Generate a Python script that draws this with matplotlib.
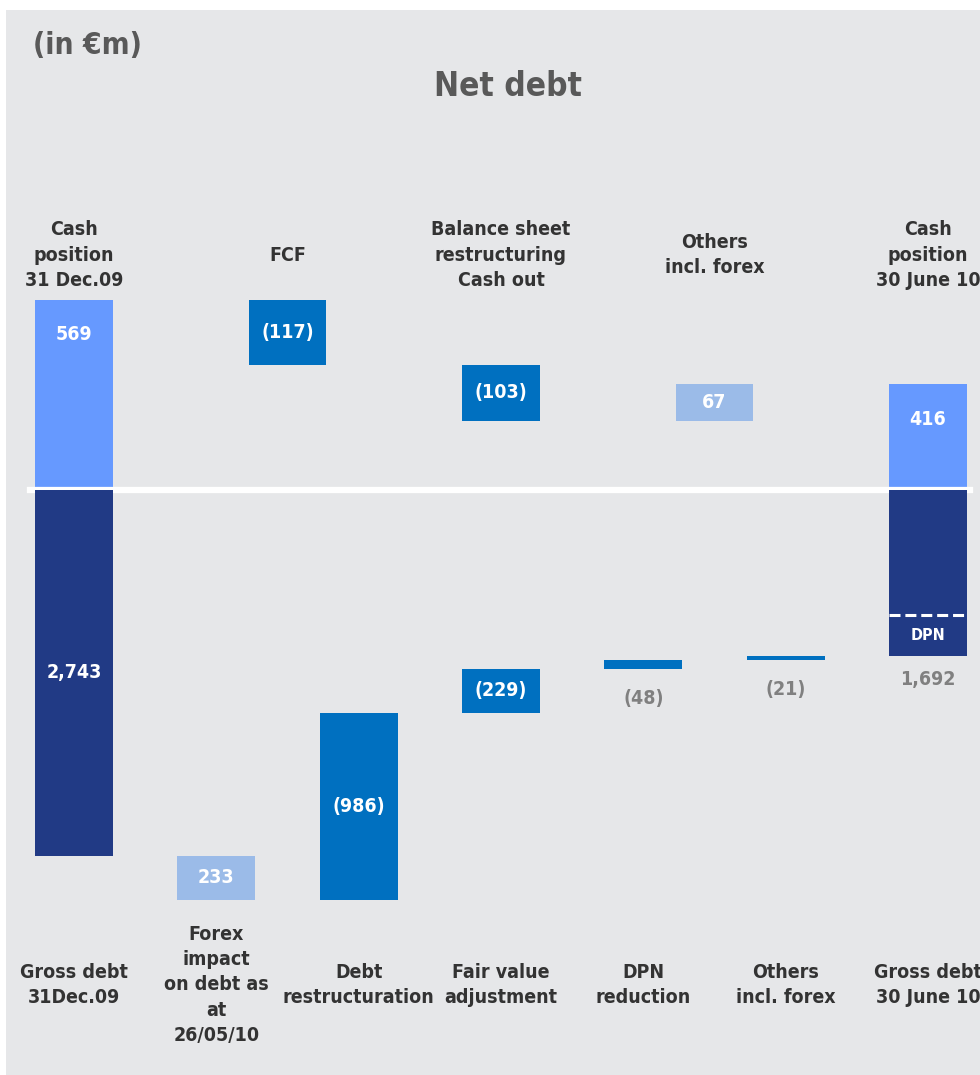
import matplotlib

matplotlib.use("Agg")

import matplotlib.pyplot as plt
import matplotlib.transforms as mtransforms
from matplotlib.patches import Rectangle

# cash side (above the line), in EUR m
CASH_LABELS = [
    "Cash\nposition\n31 Dec.09",
    "FCF",
    "Balance sheet\nrestructuring\nCash out",
    "Others\nincl. forex",
    "Cash\nposition\n30 June 10",
]
CASH_START = 569
CASH_FLOWS = [-117, -103, 67]
CASH_END = 416

# debt side (below the line), in EUR m
DEBT_LABELS = [
    "Gross debt\n31Dec.09",
    "Forex\nimpact\non debt as\nat\n26/05/10",
    "Debt\nrestructuration",
    "Fair value\nadjustment",
    "DPN\nreduction",
    "Others\nincl. forex",
    "Gross debt\n30 June 10",
]
DEBT_START = 2743
DEBT_FLOWS = [233, -986, -229, -48, -21]
DEBT_END = 1692
DPN_PART = 215  # DPN share of closing gross debt

BG = "#E6E7E9"
LIGHT = "#6699FF"
NAVY = "#213A85"
MID = "#0070C0"
PALE = "#9BBBE8"
TITLE_GREY = "#595959"
LABEL_GREY = "#333333"
VALUE_GREY = "#808080"

W, H = 980, 1075
plt.rcParams["font.family"] = ["DejaVu Sans"]
plt.rcParams["font.stretch"] = "condensed"


def fy(px: float) -> float:
    return 1 - px / H


def fmt(v: int) -> str:
    s = f"{abs(v):,}"
    return f"({s})" if v < 0 else s


fig = plt.figure(figsize=(W / 100, H / 100), dpi=100, facecolor="white")
fig.patches.append(Rectangle((6 / W, 0), 1 - 6 / W, fy(10), transform=fig.transFigure,
                             facecolor=BG, edgecolor="none", zorder=-10))

# upper half: cash, truncated axis
ax_c = fig.add_axes([0, fy(490), 1, 490 / H])
ax_c.set_xlim(-74 / 213.5, (W - 74) / 213.5)
ax_c.set_ylim(224, 1115)
ax_c.axis("off")

# lower half: debt grows downwards, truncated axis
ax_d = fig.add_axes([0, 0, 1, 585 / H])
ax_d.set_xlim(-74 / 142.33, (W - 74) / 142.33)
ax_d.set_ylim(3897, 818)
ax_d.axis("off")


def draw_waterfall(ax, start, flows, end, width, base_colour, down_colour, up_colour):
    xs = list(range(len(flows) + 2))
    ax.bar(xs[0], start, width=width, color=base_colour, zorder=2)
    level = start
    bars = [(xs[0], 0, start, start)]
    for x, v in zip(xs[1:-1], flows):
        lo, hi = min(level, level + v), max(level, level + v)
        ax.bar(x, hi - lo, bottom=lo, width=width,
               color=up_colour if v > 0 else down_colour, zorder=2)
        bars.append((x, lo, hi, v))
        level += v
    ax.bar(xs[-1], end, width=width, color=base_colour, zorder=2)
    bars.append((xs[-1], 0, end, end))
    return bars


cash_bars = draw_waterfall(ax_c, CASH_START, CASH_FLOWS, CASH_END, 0.365, LIGHT, MID, PALE)
debt_bars = draw_waterfall(ax_d, DEBT_START, DEBT_FLOWS, DEBT_END, 0.548, NAVY, MID, PALE)

val_kw = dict(ha="center", va="center", fontsize=14, fontweight="bold")

# cash values
for i, (x, lo, hi, v) in enumerate(cash_bars):
    if i in (0, len(cash_bars) - 1):
        ax_c.annotate(fmt(v), (x, hi), xytext=(0, -25), textcoords="offset points",
                      color="white", **val_kw)
    else:
        ax_c.text(x, (lo + hi) / 2, fmt(v), color="white", **val_kw)

# debt values
top_visible = ax_d.get_ylim()[1]
for i, (x, lo, hi, v) in enumerate(debt_bars):
    if i == 0:
        ax_d.text(x, (top_visible + hi) / 2, fmt(v), color="white", **val_kw)
    elif i == len(debt_bars) - 1:
        ax_d.annotate(fmt(v), (x, hi), xytext=(0, -17), textcoords="offset points",
                      color=VALUE_GREY, **val_kw)
    elif abs(v) < 60:
        ax_d.annotate(fmt(v), (x, hi), xytext=(0, -21), textcoords="offset points",
                      color=VALUE_GREY, **val_kw)
    else:
        ax_d.text(x, (lo + hi) / 2, fmt(v), color="white", **val_kw)

# DPN slice of the closing gross debt
x_end = debt_bars[-1][0]
dpn_level = DEBT_END - DPN_PART
ax_d.hlines(dpn_level, x_end - 0.274, x_end + 0.274, colors="white", linewidth=2.2,
            linestyles=(0, (3.6, 1.6)), zorder=3)
ax_d.text(x_end, (dpn_level + DEBT_END) / 2, "DPN", color="white", ha="center",
          va="center", fontsize=11.5, fontweight="bold", zorder=3)

# separator line between cash and debt
ax_c.axhline(ax_c.get_ylim()[0], xmin=30 / W, xmax=970 / W, color="white",
             linewidth=4.5, clip_on=False, zorder=4)

# category labels
cat_kw = dict(ha="center", va="center", fontsize=14, fontweight="bold",
              color=LABEL_GREY, linespacing=1.42)
tr_c = mtransforms.blended_transform_factory(ax_c.transData, fig.transFigure)
for x, lab in enumerate(CASH_LABELS):
    fig.text(x, fy(255), lab, transform=tr_c, **cat_kw)
tr_d = mtransforms.blended_transform_factory(ax_d.transData, fig.transFigure)
for x, lab in enumerate(DEBT_LABELS):
    fig.text(x, fy(985), lab, transform=tr_d, **cat_kw)

fig.text(33 / W, fy(46), "(in €m)", ha="left", va="center", fontsize=21.5,
         fontweight="bold", color=TITLE_GREY)
fig.text(508 / W, fy(86), "Net debt", ha="center", va="center", fontsize=24,
         fontweight="bold", color=TITLE_GREY)

fig.savefig("out.png", dpi=100, facecolor=fig.get_facecolor())
